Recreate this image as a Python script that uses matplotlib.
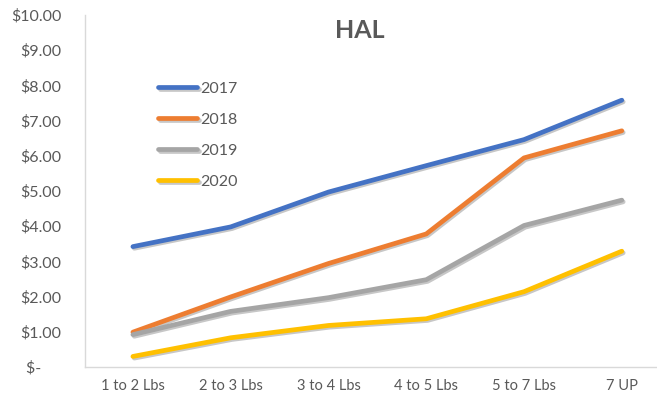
import matplotlib.pyplot as plt
import matplotlib.patheffects as pe
from matplotlib.ticker import FuncFormatter

# Price per weight bracket, by year
categories = ['1 to 2 Lbs', '2 to 3 Lbs', '3 to 4 Lbs', '4 to 5 Lbs', '5 to 7 Lbs', '7 UP']
years = ['2017', '2018', '2019', '2020']
prices_2017 = [3.42, 3.98, 4.97, 5.72, 6.46, 7.58]
prices_2018 = [0.99, 1.99, 2.94, 3.78, 5.94, 6.71]
prices_2019 = [0.92, 1.58, 1.97, 2.48, 4.02, 4.74]
prices_2020 = [0.30, 0.83, 1.18, 1.37, 2.14, 3.29]
colors = ['#4472C4', '#ED7D31', '#A5A5A5', '#FFC000']

plt.rcParams['font.family'] = ['Lato', 'DejaVu Sans']

fig = plt.figure(figsize=(6.57, 4.0), dpi=100)
ax = fig.add_axes([85 / 657, 33 / 400, 572 / 657, 352 / 400])

shadow = [pe.SimpleLineShadow(offset=(1.0, -1.2), shadow_color='black', alpha=0.22),
          pe.Normal()]

x = range(len(categories))
for year, vals, c in zip(years, [prices_2017, prices_2018, prices_2019, prices_2020], colors):
    ax.plot(x, vals, color=c, lw=3.4, label=year, solid_capstyle='round',
            solid_joinstyle='round', path_effects=shadow)

ax.set_xlim(-0.49, 5.36)
ax.set_ylim(0, 10)
ax.set_yticks(range(0, 11))
ax.yaxis.set_major_formatter(FuncFormatter(lambda v, p: '$-     ' if v == 0 else f'${v:.2f}'))
ax.set_xticks(list(x))
ax.set_xticklabels(categories)
ax.tick_params(length=0, colors='#595959')
ax.tick_params(axis='y', labelsize=11.5, pad=17)
ax.tick_params(axis='x', labelsize=10.5, pad=9)

for s in ['top', 'right']:
    ax.spines[s].set_visible(False)
for s in ['left', 'bottom']:
    ax.spines[s].set_color('#D9D9D9')
    ax.spines[s].set_linewidth(1)

fig.text(360 / 657, 1 - 30 / 400, 'HAL', ha='center', va='center',
         fontsize=18, fontweight='bold', color='#595959')

leg = ax.legend(loc='upper left', bbox_to_anchor=(0.117, 0.829), frameon=False,
                handlelength=2.45, handletextpad=0.15, labelspacing=1.05, fontsize=11.5,
                borderaxespad=0)
for t in leg.get_texts():
    t.set_color('#595959')

fig.savefig('out.png', dpi=100)
